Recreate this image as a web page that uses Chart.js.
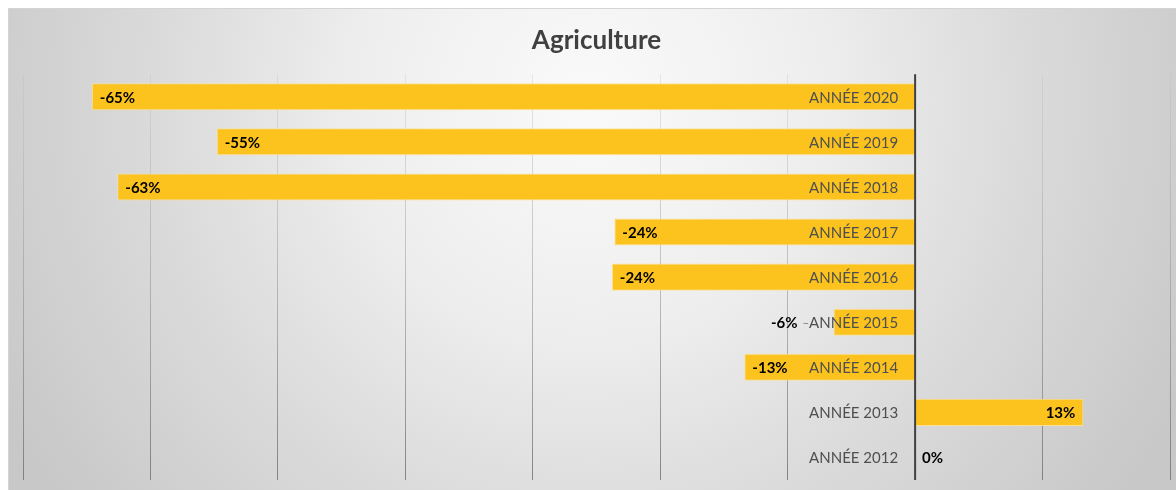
<!DOCTYPE html>
<html>
<head>
<meta charset="utf-8">
<title>Agriculture</title>
<script src="https://cdn.jsdelivr.net/npm/chart.js@4"></script>
<style>
    html, body { margin: 0; padding: 0; background: #fff; }
    #wrap { width: 1176px; height: 490px; }
</style>
</head>
<body>
<div id="wrap"><canvas id="chart" width="1176" height="490"></canvas></div>
<script>
// --- Data ---
const categories = ['ANNÉE 2020', 'ANNÉE 2019', 'ANNÉE 2018', 'ANNÉE 2017', 'ANNÉE 2016',
                    'ANNÉE 2015', 'ANNÉE 2014', 'ANNÉE 2013', 'ANNÉE 2012'];
const values = [-64.6, -54.8, -62.6, -23.6, -23.8, -6.4, -13.4, 13.2, 0];
const axisMin = -70;
const axisMax = 20;
const axisStep = 10;

const BAR_COLOR = '#FCC31E';
const FONT = 'Lato, "Open Sans", sans-serif';

// --- Background (grey radial gradient like the Excel chart style) ---
const backgroundPlugin = {
    id: 'background',
    beforeDraw(chart) {
        const { ctx, width, height } = chart;
        ctx.save();
        ctx.fillStyle = '#ffffff';
        ctx.fillRect(0, 0, width, height);
        const g = ctx.createRadialGradient(590, 100, 0, 590, 100, 660);
        g.addColorStop(0, '#fafafa');
        g.addColorStop(0.35, '#eeeeee');
        g.addColorStop(0.65, '#dbdbdb');
        g.addColorStop(1, '#c8c8c8');
        ctx.fillStyle = g;
        ctx.fillRect(8, 8, width - 8, height - 8);
        ctx.strokeStyle = '#d4d4d4';
        ctx.lineWidth = 1;
        ctx.beginPath();
        ctx.moveTo(8.5, height);
        ctx.lineTo(8.5, 8.5);
        ctx.lineTo(width, 8.5);
        ctx.stroke();
        ctx.restore();
    }
};

// --- Zero axis, category names and value labels ---
const labelsPlugin = {
    id: 'barLabels',
    afterDatasetsDraw(chart) {
        const { ctx, chartArea, scales: { x } } = chart;
        const meta = chart.getDatasetMeta(0);
        const zero = x.getPixelForValue(0);

        ctx.save();
        // vertical axis line at 0
        ctx.strokeStyle = '#404040';
        ctx.lineWidth = 2;
        ctx.beginPath();
        ctx.moveTo(zero, chartArea.top);
        ctx.lineTo(zero, chartArea.bottom);
        ctx.stroke();

        ctx.textBaseline = 'middle';
        meta.data.forEach((bar, i) => {
            const yc = bar.y + 1;
            const v = values[i];

            // category name, right next to the axis
            ctx.font = '15px ' + FONT;
            ctx.fillStyle = '#4f4f4f';
            ctx.textAlign = 'right';
            const catX = zero - 17;
            ctx.fillText(categories[i], catX, yc);
            const catW = ctx.measureText(categories[i]).width;

            // value label
            const txt = Math.round(v) + '%';
            ctx.font = 'bold 15px ' + FONT;
            ctx.fillStyle = '#000000';
            const w = ctx.measureText(txt).width;

            if (v > 0) {
                ctx.textAlign = 'right';
                ctx.fillText(txt, bar.x - 8, yc);
            } else if (v === 0) {
                ctx.textAlign = 'left';
                ctx.fillText(txt, zero + 7, yc);
            } else if (zero - bar.x > catW + 17 + w + 16) {
                ctx.textAlign = 'left';
                ctx.fillText(txt, bar.x + 8, yc);
            } else {
                // too short: put the label outside with a leader line
                const end = bar.x - 36;
                ctx.textAlign = 'right';
                ctx.fillText(txt, end, yc);
                ctx.strokeStyle = '#8c8c8c';
                ctx.lineWidth = 1;
                ctx.beginPath();
                ctx.moveTo(end + 6, Math.round(yc) + 0.5);
                ctx.lineTo(catX - catW - 1, Math.round(yc) + 0.5);
                ctx.stroke();
            }
        });
        ctx.restore();
    }
};

function gridColor(context) {
    const area = context.chart.chartArea;
    if (!area) return 'rgba(150,150,150,0.5)';
    const g = context.chart.ctx.createLinearGradient(0, area.top, 0, area.bottom);
    g.addColorStop(0, 'rgba(180,180,180,0.25)');
    g.addColorStop(1, 'rgba(110,110,110,0.8)');
    return g;
}

const chart = new Chart(document.getElementById('chart'), {
    type: 'bar',
    data: {
        labels: categories,
        datasets: [{
            data: values,
            backgroundColor: BAR_COLOR,
            borderColor: 'rgba(255,225,140,0.9)',
            borderWidth: 1,
            categoryPercentage: 1,
            barPercentage: 0.6
        }]
    },
    options: {
        indexAxis: 'y',
        responsive: false,
        animation: false,
        devicePixelRatio: 1,
        layout: { padding: { top: 2, left: 23, right: 6, bottom: 10 } },
        plugins: {
            legend: { display: false },
            tooltip: { enabled: false },
            title: {
                display: true,
                text: 'Agriculture',
                color: '#404040',
                font: { family: FONT, size: 26, weight: 'bold' },
                padding: { top: 23, bottom: 18 }
            }
        },
        scales: {
            x: {
                min: axisMin,
                max: axisMax,
                ticks: { display: false, stepSize: axisStep },
                border: { display: false },
                grid: { drawTicks: false, color: gridColor, lineWidth: 1 }
            },
            y: {
                display: false
            }
        }
    },
    plugins: [backgroundPlugin, labelsPlugin]
});
</script>
</body>
</html>
